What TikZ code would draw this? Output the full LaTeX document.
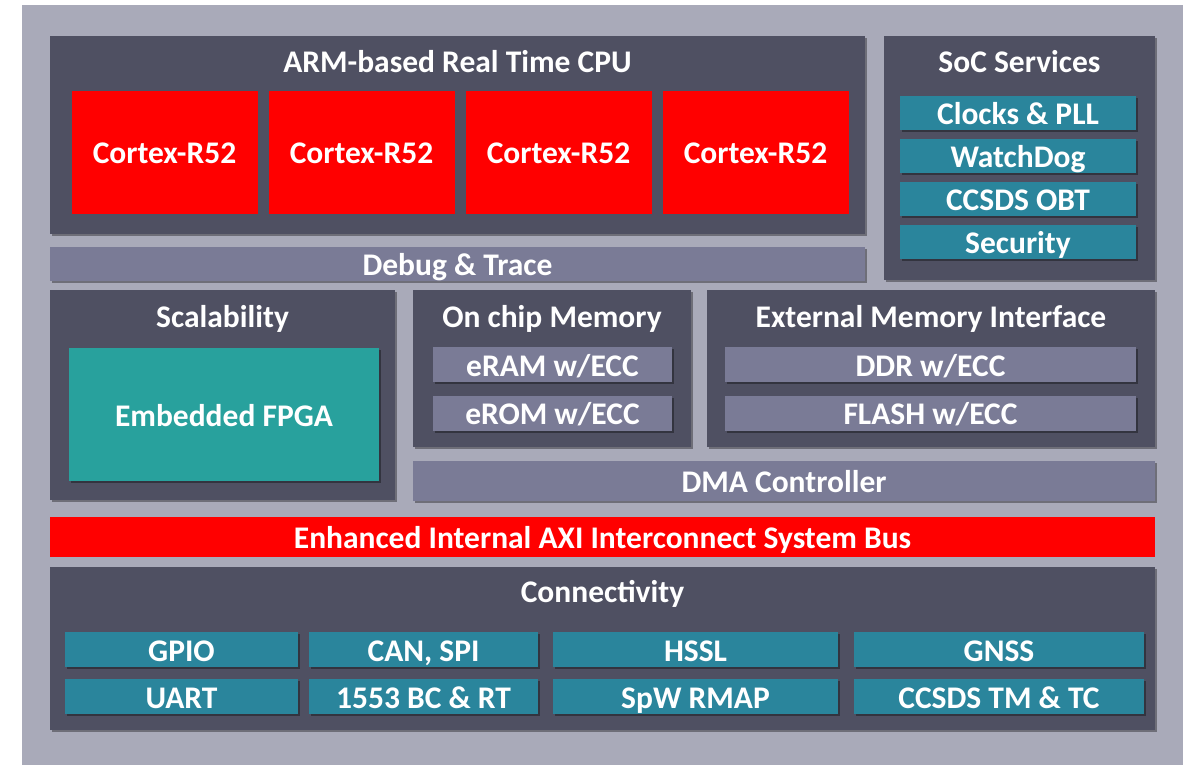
\documentclass[tikz,border=0pt]{standalone}
\usepackage{fontspec}
\setmainfont{Carlito}
\usetikzlibrary{positioning,shadows}
\definecolor{outergray}{HTML}{A9AAB9}
\definecolor{darkblk}{HTML}{4F5062}
\definecolor{barblk}{HTML}{7A7B96}
\definecolor{tealblk}{HTML}{2A859C}
\definecolor{fpgablk}{HTML}{28A19D}
\definecolor{busred}{HTML}{FF0000}
\begin{document}
\begin{tikzpicture}[
		x=1pt, y=-1pt
		,every node/.style={font=\fontsize{31.5}{34}\selectfont\bfseries, text=white, inner sep=0pt, text height=23pt, text depth=0pt}
		,shade/.style={drop shadow={shadow xshift=2pt, shadow yshift=-2pt, opacity=.35, fill=black}}
		,blk/.style={shade, rectangle, fill=darkblk}
		,bar/.style={shade, rectangle, fill=barblk}
		,item/.style={shade, rectangle, fill=tealblk}
		,core/.style={rectangle, fill=busred, minimum width=186pt, minimum height=123pt}
		,ttl/.style={anchor=center}
	]
		\useasboundingbox (0,0) rectangle (1188,765);
		\fill[outergray] (22,5) rectangle (1183,765);

		\node[blk, minimum width=815pt, minimum height=198pt] (cpu) at (457.5,135) {};
		\node[ttl] (cputitle) at ([yshift=-25pt]cpu.north) {ARM-based Real Time CPU};
		\foreach \i in {1,...,4}
			\node[core] (core\i) at ({164.5+197*(\i-1)},152.5) {Cortex-R52};

		\node[blk, minimum width=271pt, minimum height=244pt] (soc) at (1019.5,158) {};
		\node[ttl] (soctitle) at ([yshift=-25pt]soc.north) {SoC Services};
		\foreach \i/\t in {1/Clocks \& PLL, 2/WatchDog, 3/CCSDS OBT, 4/Security}
			\node[item, minimum width=236pt, minimum height=34pt] (svc\i) at ({1018},{113+43*(\i-1)}) {\t};

		\node[bar, minimum width=815pt, minimum height=34pt] (dbg) at (457.5,264) {Debug \& Trace};

		\node[blk, minimum width=345pt, minimum height=210pt] (scal) at (222.5,395) {};
		\node[ttl] (scaltitle) at ([yshift=-26pt]scal.north) {Scalability};
		\node[shade, fill=fpgablk, minimum width=310pt, minimum height=133pt] (fpga) at (224,414.5) {Embedded FPGA};

		\node[blk, minimum width=278pt, minimum height=157pt] (ocm) at (552,368.5) {};
		\node[ttl] (ocmtitle) at ([yshift=-26pt]ocm.north) {On chip Memory};
		\node[bar, minimum width=239pt, minimum height=35pt] (eram) at (552.5,364.5) {eRAM w/ECC};
		\node[bar, minimum width=239pt, minimum height=35pt] (erom) at (552.5,413) {eROM w/ECC};

		\node[blk, minimum width=448pt, minimum height=157pt] (emi) at (931,368.5) {};
		\node[ttl] (emititle) at ([yshift=-26pt]emi.north) {External Memory Interface};
		\node[bar, minimum width=411pt, minimum height=35pt] (ddr) at (930.5,364.5) {DDR w/ECC};
		\node[bar, minimum width=411pt, minimum height=35pt] (flash) at (930.5,413) {FLASH w/ECC};

		\node[bar, minimum width=742pt, minimum height=40pt] (dma) at (784,481) {DMA Controller};

		\node[fill=busred, minimum width=1105pt, minimum height=40pt] (axi) at (602.5,537) {Enhanced Internal AXI Interconnect System Bus};

		\node[blk, minimum width=1105pt, minimum height=163pt] (conn) at (602.5,648.5) {};
		\node[ttl] (conntitle) at ([yshift=-24pt]conn.north) {Connectivity};
		\foreach \n/\cx/\w/\a/\b in {c1/181.5/233/GPIO/UART, c2/423.5/229/{CAN, SPI}/1553 BC \& RT,
				c3/695.5/285/HSSL/SpW RMAP, c4/999/290/GNSS/CCSDS TM \& TC}{
			\node[item, minimum width=\w pt, minimum height=35pt] (\n top) at (\cx,649.5) {\a};
			\node[item, minimum width=\w pt, minimum height=35pt] (\n bot) at (\cx,696.5) {\b};
		}
	\end{tikzpicture}
\end{document}
